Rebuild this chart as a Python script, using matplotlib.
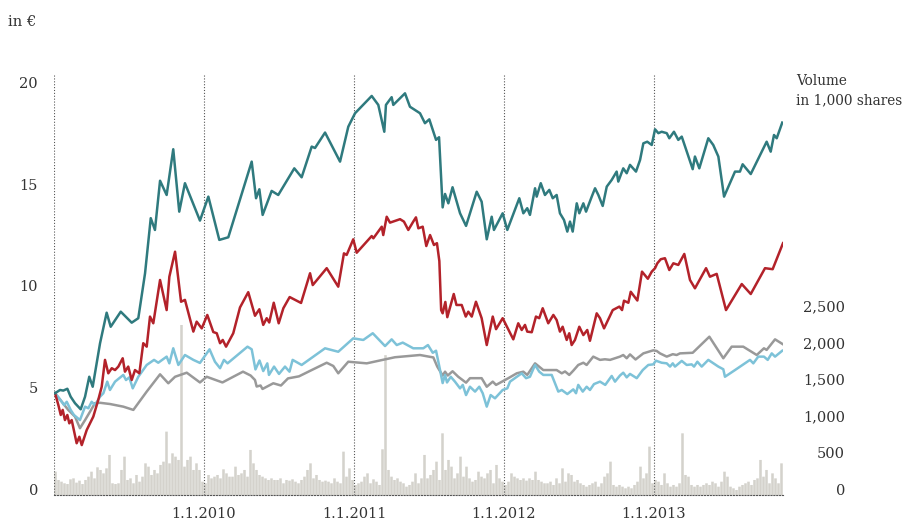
import numpy as np
import matplotlib
matplotlib.use("Agg")
import matplotlib.pyplot as plt

plt.rcParams['font.family'] = ['DejaVu Serif']

# share prices in EUR, x = years since 1.1.2009
teal_t = [0.007, 0.04, 0.062, 0.089, 0.111, 0.14, 0.178, 0.207, 0.235, 0.258,
          0.307, 0.351, 0.378, 0.445, 0.518, 0.562, 0.607, 0.645, 0.673, 0.707,
          0.751, 0.795, 0.835, 0.873, 0.973, 1.029, 1.102, 1.162, 1.318, 1.347,
          1.369, 1.391, 1.451, 1.495, 1.602, 1.651, 1.718, 1.74, 1.807, 1.907,
          1.962, 2.007, 2.118, 2.162, 2.202, 2.213, 2.251, 2.262, 2.34, 2.373,
          2.44, 2.473, 2.502, 2.547, 2.567, 2.591, 2.607, 2.629, 2.657, 2.707,
          2.747, 2.818, 2.851, 2.885, 2.918, 2.933, 2.991, 3.022, 3.102, 3.129,
          3.155, 3.173, 3.207, 3.218, 3.245, 3.273, 3.302, 3.325, 3.351, 3.373,
          3.4, 3.422, 3.44, 3.458, 3.485, 3.502, 3.529, 3.547, 3.585, 3.607,
          3.629, 3.658, 3.685, 3.718, 3.751, 3.762, 3.795, 3.818, 3.84, 3.88,
          3.907, 3.929, 3.955, 3.985, 4.007, 4.029, 4.051, 4.085, 4.102, 4.133,
          4.162, 4.185, 4.258, 4.273, 4.302, 4.362, 4.395, 4.429, 4.467, 4.54,
          4.573, 4.591, 4.645, 4.751, 4.778, 4.8, 4.818, 4.855]
teal_v = [4.72, 4.88, 4.85, 4.94, 4.55, 4.23, 3.93, 4.55, 5.53, 5.04,
          7.18, 8.68, 7.99, 8.73, 8.19, 8.41, 10.62, 13.33, 12.75, 15.17,
          14.47, 16.72, 13.65, 15.05, 13.21, 14.39, 12.26, 12.39, 16.11, 14.31,
          14.75, 13.49, 14.67, 14.47, 15.78, 15.34, 16.85, 16.78, 17.54, 16.11,
          17.83, 18.49, 19.34, 18.9, 17.58, 18.9, 19.28, 18.9, 19.47, 18.81,
          18.49, 18.0, 18.19, 17.18, 17.31, 13.86, 14.52, 14.06, 14.85, 13.57,
          12.95, 14.63, 14.14, 12.29, 13.4, 12.75, 13.57, 12.75, 14.31, 13.57,
          13.82, 13.49, 14.8, 14.39, 15.05, 14.47, 14.72, 14.31, 14.47, 13.57,
          13.24, 12.67, 13.16, 12.67, 14.06, 13.57, 14.06, 13.65, 14.39, 14.8,
          14.47, 13.93, 14.88, 15.21, 15.62, 15.13, 15.78, 15.54, 15.95, 15.62,
          16.19, 17.01, 17.09, 16.93, 17.7, 17.51, 17.58, 17.51, 17.26, 17.58,
          17.18, 17.34, 15.74, 16.36, 15.78, 17.26, 16.93, 16.36, 14.39, 15.62,
          15.62, 15.98, 15.5, 17.09, 16.6, 17.42, 17.26, 18.03]

red_t = [0.007, 0.029, 0.045, 0.058, 0.073, 0.089, 0.102, 0.118, 0.151, 0.169,
         0.185, 0.218, 0.262, 0.295, 0.318, 0.34, 0.362, 0.385, 0.407, 0.429,
         0.458, 0.473, 0.495, 0.518, 0.54, 0.569, 0.595, 0.618, 0.64, 0.662,
         0.707, 0.751, 0.769, 0.807, 0.847, 0.873, 0.929, 0.951, 0.985, 1.022,
         1.062, 1.085, 1.107, 1.125, 1.147, 1.195, 1.24, 1.295, 1.34, 1.369,
         1.395, 1.418, 1.435, 1.465, 1.498, 1.529, 1.571, 1.647, 1.707, 1.725,
         1.818, 1.895, 1.933, 1.951, 1.995, 2.018, 2.118, 2.129, 2.185, 2.195,
         2.218, 2.24, 2.307, 2.333, 2.362, 2.395, 2.413, 2.429, 2.458, 2.482,
         2.507, 2.533, 2.553, 2.569, 2.581, 2.591, 2.609, 2.622, 2.665, 2.683,
         2.718, 2.745, 2.762, 2.785, 2.813, 2.851, 2.885, 2.925, 2.947, 2.991,
         3.062, 3.095, 3.118, 3.14, 3.155, 3.185, 3.213, 3.235, 3.258, 3.295,
         3.329, 3.351, 3.373, 3.391, 3.418, 3.435, 3.451, 3.473, 3.502, 3.529,
         3.555, 3.573, 3.618, 3.64, 3.667, 3.725, 3.769, 3.787, 3.8, 3.829,
         3.845, 3.889, 3.92, 3.959, 3.985, 4.007, 4.022, 4.045, 4.073, 4.102,
         4.129, 4.162, 4.202, 4.24, 4.273, 4.347, 4.373, 4.418, 4.48, 4.585,
         4.645, 4.74, 4.791, 4.86]
red_v = [4.72, 4.14, 3.65, 3.9, 3.4, 3.65, 3.24, 3.4, 2.26, 2.58,
         2.17, 2.91, 3.57, 4.39, 5.04, 6.36, 5.7, 5.95, 5.86, 6.03,
         6.44, 5.78, 6.03, 5.37, 5.86, 5.7, 7.18, 7.01, 8.49, 8.16,
         10.29, 8.81, 10.45, 11.68, 9.22, 9.31, 7.75, 8.24, 7.91, 8.57,
         7.73, 7.67, 7.18, 7.34, 7.01, 7.67, 8.94, 9.69, 8.53, 8.85,
         8.08, 8.41, 8.2, 9.17, 8.16, 8.9, 9.45, 9.16, 10.62, 10.04,
         10.87, 9.96, 11.6, 11.52, 12.29, 11.63, 12.45, 12.34, 12.91, 12.5,
         13.4, 13.11, 13.28, 13.16, 12.75, 13.16, 13.37, 12.83, 12.91, 11.96,
         12.5, 12.01, 12.1, 11.22, 8.81, 8.65, 9.21, 8.46, 9.6, 9.06,
         9.06, 8.49, 8.73, 8.49, 9.22, 8.41, 7.09, 8.49, 7.87, 8.41,
         7.37, 8.16, 7.83, 8.08, 7.75, 7.72, 8.49, 8.41, 8.9, 8.16,
         8.57, 8.32, 7.75, 7.99, 7.34, 7.67, 7.09, 7.34, 7.99, 7.58,
         7.83, 7.3, 8.65, 8.41, 7.91, 8.81, 8.98, 8.81, 9.27, 9.17,
         9.71, 9.28, 10.7, 10.35, 10.7, 10.87, 11.11, 11.31, 11.36, 10.78,
         11.11, 11.03, 11.57, 10.29, 9.88, 10.87, 10.45, 10.59, 8.81, 10.09,
         9.6, 10.87, 10.82, 12.1]

blue_t = [0.007, 0.04, 0.067, 0.085, 0.111, 0.133, 0.173, 0.207, 0.229, 0.251,
          0.273, 0.307, 0.329, 0.355, 0.373, 0.407, 0.462, 0.48, 0.502, 0.525,
          0.562, 0.618, 0.667, 0.695, 0.751, 0.769, 0.795, 0.829, 0.873, 0.929,
          0.973, 1.037, 1.073, 1.107, 1.133, 1.157, 1.29, 1.318, 1.343, 1.37,
          1.395, 1.422, 1.433, 1.467, 1.5, 1.54, 1.57, 1.591, 1.651, 1.807,
          1.895, 1.995, 2.062, 2.125, 2.207, 2.251, 2.285, 2.325, 2.395, 2.462,
          2.493, 2.525, 2.547, 2.569, 2.591, 2.607, 2.62, 2.645, 2.673, 2.707,
          2.725, 2.747, 2.773, 2.807, 2.835, 2.858, 2.885, 2.911, 2.94, 2.991,
          3.022, 3.04, 3.085, 3.118, 3.147, 3.173, 3.207, 3.235, 3.262, 3.318,
          3.362, 3.385, 3.422, 3.462, 3.48, 3.495, 3.525, 3.551, 3.573, 3.6,
          3.64, 3.675, 3.718, 3.74, 3.773, 3.795, 3.818, 3.84, 3.885, 3.925,
          3.962, 3.995, 4.013, 4.051, 4.085, 4.107, 4.125, 4.14, 4.185, 4.218,
          4.251, 4.267, 4.289, 4.318, 4.362, 4.429, 4.462, 4.473, 4.54, 4.64,
          4.662, 4.695, 4.733, 4.758, 4.785, 4.807, 4.855]
blue_v = [4.72, 4.42, 4.14, 4.3, 3.9, 3.65, 3.4, 4.06, 3.98, 4.3,
          4.14, 4.55, 4.72, 5.29, 4.88, 5.29, 5.62, 5.37, 5.5, 4.96,
          5.53, 6.11, 6.36, 6.22, 6.52, 6.19, 6.93, 6.11, 6.6, 6.36,
          6.21, 6.88, 6.27, 5.95, 6.36, 6.19, 7.01, 6.88, 5.89, 6.33,
          5.81, 6.19, 5.62, 6.03, 5.67, 6.03, 5.78, 6.36, 6.11, 6.93,
          6.76, 7.42, 7.34, 7.67, 7.04, 7.37, 7.09, 7.21, 6.93, 6.93,
          7.09, 6.71, 6.81, 6.03, 5.22, 5.62, 5.25, 5.53, 5.29, 4.96,
          5.13, 4.63, 5.04, 4.8, 5.04, 4.72, 4.06, 4.63, 4.47, 4.88,
          4.96, 5.29, 5.53, 5.7, 5.46, 5.53, 6.11, 5.78, 5.62, 5.62,
          4.8, 4.88, 4.68, 4.91, 4.72, 5.13, 4.8, 5.04, 4.88, 5.17,
          5.29, 5.13, 5.57, 5.29, 5.59, 5.73, 5.5, 5.67, 5.46, 5.86,
          6.11, 6.14, 6.32, 6.22, 6.19, 6.03, 6.19, 6.03, 6.31, 6.11,
          6.14, 6.03, 6.27, 6.03, 6.36, 6.03, 5.9, 5.53, 5.86, 6.36,
          6.19, 6.52, 6.52, 6.36, 6.68, 6.52, 6.81]

grey_t = [0.007, 0.095, 0.14, 0.173, 0.207, 0.24, 0.273, 0.307, 0.373, 0.462,
          0.529, 0.618, 0.707, 0.762, 0.807, 0.885, 0.973, 1.018, 1.123, 1.195,
          1.26, 1.311, 1.34, 1.351, 1.377, 1.39, 1.462, 1.513, 1.56, 1.633,
          1.718, 1.818, 1.862, 1.895, 1.962, 2.085, 2.191, 2.273, 2.44, 2.529,
          2.555, 2.591, 2.607, 2.625, 2.657, 2.695, 2.747, 2.773, 2.851, 2.885,
          2.925, 2.947, 3.029, 3.085, 3.129, 3.155, 3.207, 3.262, 3.351, 3.385,
          3.407, 3.435, 3.462, 3.495, 3.529, 3.551, 3.595, 3.64, 3.673, 3.707,
          3.773, 3.795, 3.818, 3.84, 3.877, 3.929, 3.995, 4.018, 4.04, 4.085,
          4.125, 4.151, 4.173, 4.258, 4.369, 4.462, 4.518, 4.595, 4.685, 4.733,
          4.751, 4.807, 4.857]
grey_v = [4.72, 3.9, 3.57, 3.0, 3.4, 3.81, 4.23, 4.25, 4.19, 4.06,
          3.9, 4.8, 5.65, 5.21, 5.53, 5.73, 5.25, 5.53, 5.25, 5.53,
          5.78, 5.59, 5.37, 5.05, 5.1, 4.93, 5.21, 5.1, 5.45, 5.55,
          5.86, 6.22, 6.06, 5.7, 6.27, 6.19, 6.36, 6.49, 6.6, 6.48,
          6.03, 5.59, 5.78, 5.59, 5.8, 5.53, 5.24, 5.46, 5.46, 5.04,
          5.29, 5.13, 5.46, 5.7, 5.78, 5.62, 6.19, 5.86, 5.86, 5.7,
          5.79, 5.62, 5.83, 6.11, 6.22, 6.11, 6.52, 6.36, 6.39, 6.36,
          6.52, 6.6, 6.44, 6.63, 6.38, 6.68, 6.83, 6.8, 6.68, 6.52,
          6.64, 6.6, 6.68, 6.71, 7.5, 6.44, 7.01, 7.01, 6.6, 6.93,
          6.85, 7.37, 7.14]

# traded volume in 1,000 shares, one value per 0.02 years from 1.1.2009
volume = [317, 204, 181, 159, 149, 213, 226, 168, 195, 149, 204, 249, 317, 226, 376,
          340, 294, 362, 544, 159, 149, 159, 340, 521, 204, 226, 159, 272, 181, 249,
          430, 385, 272, 340, 294, 408, 453, 861, 430, 566, 521, 476, 2310, 385, 476,
          521, 340, 430, 340, 181, 159, 272, 226, 249, 272, 226, 349, 294, 249, 249,
          385, 272, 294, 340, 249, 612, 430, 340, 272, 249, 226, 204, 226, 204, 204,
          226, 159, 204, 195, 213, 181, 159, 204,
          249, 340, 430, 226, 272, 204, 181, 195, 181, 159, 226, 181, 159, 589, 249,
          362, 204, 136, 159, 181, 249, 294, 159, 213, 181, 136, 621, 1900, 340, 249,
          204, 226, 181, 159, 113, 136, 181, 294, 159, 226, 544, 226, 272, 340, 453,
          204, 838, 340, 476, 385, 226, 294, 521, 249, 385, 226, 181, 204, 317, 249,
          226, 294, 340, 159, 408, 226, 181, 136, 181, 294, 249, 226, 204, 226, 195,
          226, 204, 317, 204, 181, 159,
          159, 181, 136, 226, 159, 362, 181, 294, 272, 181, 204, 159, 136, 113, 136,
          159, 181, 113, 159, 249, 294, 453, 136, 113, 136, 113, 91, 113, 91, 136,
          181, 385, 226, 294, 657, 159, 204, 181, 136, 294, 159, 113, 136, 113, 159,
          838, 272, 249, 136, 113, 136, 113, 136, 159, 136, 181, 159, 113, 181, 317,
          249, 113, 91, 68, 113, 136, 159, 181, 136, 204, 226, 476, 249, 340, 159,
          294, 226, 159, 430, 113]

year_ticks = [1, 2, 3, 4]
year_labels = ["1.1.2010", "1.1.2011", "1.1.2012", "1.1.2013"]
price_ticks = [0, 5, 10, 15, 20]
vol_ticks = [0, 500, 1000, 1500, 2000, 2500]

text_col = '#333333'

fig = plt.figure(figsize=(9.07, 5.27), dpi=100)
ax = fig.add_axes([54 / 907, 32 / 527, 729 / 907, 421 / 527])
ax2 = ax.twinx()
ax.set_zorder(ax2.get_zorder() + 1)
ax.patch.set_visible(False)

# volume bars in the back
vol_t = np.arange(len(volume)) * 0.02 + 0.01
ax2.bar(vol_t, volume, width=0.017, color='#d4d2cc', linewidth=0, snap=False)
ax2.set_ylim(0, 5720)
ax2.set_yticks(vol_ticks, [f"{v:,}" for v in vol_ticks], ha='right', va='baseline')
ax2.tick_params(axis='y', length=0, pad=44.6, labelsize=10.5, labelcolor=text_col)

# year separators
for yr in range(5):
    ax.axvline(yr, color='#555555', lw=0.8, ls=(0, (1, 1.6)), zorder=1)

ax.plot(grey_t, grey_v, color='#999999', lw=1.8, zorder=3)
ax.plot(blue_t, blue_v, color='#7dc2d8', lw=1.8, zorder=4)
ax.plot(red_t, red_v, color='#b3222a', lw=1.8, zorder=5)
ax.plot(teal_t, teal_v, color='#2f7a7e', lw=1.8, zorder=6)

ax.set_xlim(0, 4.86)
ax.set_ylim(-0.285, 20.42)
ax.set_xticks(year_ticks, year_labels)
ax.set_yticks(price_ticks)
ax.tick_params(axis='both', length=0, labelsize=10.5, labelcolor=text_col)
ax.tick_params(axis='y', pad=11.5)
ax.tick_params(axis='x', pad=9)

for a in (ax, ax2):
    for side in ('top', 'left', 'right', 'bottom'):
        a.spines[side].set_visible(False)
ax.spines['bottom'].set_visible(True)
ax.spines['bottom'].set_linestyle((0, (1, 1.6)))
ax.spines['bottom'].set_linewidth(0.8)
ax.spines['bottom'].set_color('#555555')

fig.text(8 / 907, 1 - 22 / 527, "in €", fontsize=10.5, color=text_col, va='center')
fig.text(796 / 907, 1 - 74 / 527, "Volume\nin 1,000 shares", fontsize=9.8,
         color=text_col, va='top', linespacing=1.45)

fig.savefig("out.png", dpi=100)
